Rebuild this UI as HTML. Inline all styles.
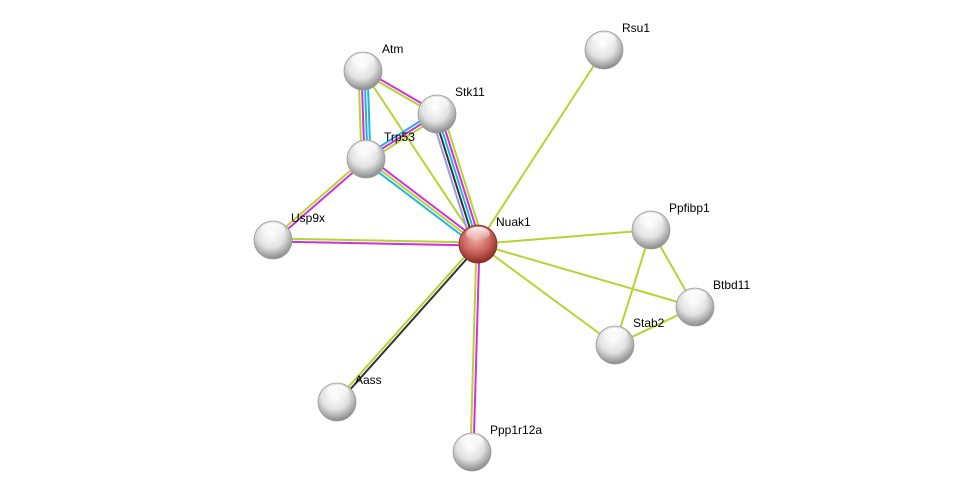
<!DOCTYPE html>
<html><head><meta charset="utf-8"><style>
html,body{margin:0;padding:0;background:#fff;width:975px;height:497px;overflow:hidden}
text{font-family:"Liberation Sans",sans-serif;font-size:12px;fill:#000}
</style></head><body>
<svg id="s" width="975" height="497" xmlns="http://www.w3.org/2000/svg">
<defs>
<radialGradient id="g" cx="45%" cy="35%" r="65%">
<stop offset="0" stop-color="#ffffff"/><stop offset="0.55" stop-color="#e2e2e2"/><stop offset="1" stop-color="#8a8a8a"/>
</radialGradient>
<radialGradient id="r" cx="45%" cy="35%" r="65%">
<stop offset="0" stop-color="#f0b0a8"/><stop offset="0.6" stop-color="#c8605a"/><stop offset="1" stop-color="#8a2a25"/>
</radialGradient>
<linearGradient id="hl" x1="0" y1="0" x2="0" y2="1">
<stop offset="0" stop-color="#fff" stop-opacity="0.95"/><stop offset="1" stop-color="#fff" stop-opacity="0"/>
</linearGradient>
</defs>
<g id="edges"></g><g id="nodes"></g>
</svg>
<script>
var N={Atm:[363,71],Stk11:[437,114],Trp53:[366,159],Usp9x:[273,240],Nuak1:[478,244],Rsu1:[604,50],Ppfibp1:[651,230],Btbd11:[695,307],Stab2:[615,345],Aass:[337,402],Ppp1r12a:[472,452]};
var Y="#b4d432",M="#d030d8",C="#22b4e0",K="#333333",L="#9999ee";
var E=[["Atm","Trp53",[C,C,M,Y]],["Atm","Stk11",[M,Y]],["Atm","Nuak1",[Y]],["Stk11","Trp53",[Y,M,C]],
["Stk11","Nuak1",[Y,M,C,K,L]],["Trp53","Nuak1",[M,Y,C]],["Trp53","Usp9x",[M,Y]],["Usp9x","Nuak1",[Y,M]],
["Rsu1","Nuak1",[Y]],["Nuak1","Ppfibp1",[Y]],["Nuak1","Btbd11",[Y]],["Nuak1","Stab2",[Y]],
["Ppfibp1","Btbd11",[Y]],["Ppfibp1","Stab2",[Y]],["Stab2","Btbd11",[Y]],["Aass","Nuak1",[Y,K]],["Ppp1r12a","Nuak1",[Y,M]]];
var ns="http://www.w3.org/2000/svg",eg=document.getElementById("edges"),ng=document.getElementById("nodes");
E.forEach(function(e){var a=N[e[0]],b=N[e[1]],dx=b[0]-a[0],dy=b[1]-a[1],l=Math.hypot(dx,dy),px=-dy/l,py=dx/l,n=e[2].length;
e[2].forEach(function(c,i){var o=(i-(n-1)/2)*3;var ln=document.createElementNS(ns,"line");
ln.setAttribute("x1",a[0]+px*o);ln.setAttribute("y1",a[1]+py*o);ln.setAttribute("x2",b[0]+px*o);ln.setAttribute("y2",b[1]+py*o);
ln.setAttribute("stroke",c);ln.setAttribute("stroke-width","2");eg.appendChild(ln);});});
var lab={Atm:[382,53],Stk11:[455,96],Trp53:[384,141],Usp9x:[291,222],Nuak1:[496,226],Rsu1:[622,32],Ppfibp1:[669,212],Btbd11:[713,289],Stab2:[633,327],Aass:[355,384],Ppp1r12a:[490,434]};
for(var k in N){var p=N[k];var c=document.createElementNS(ns,"circle");c.setAttribute("cx",p[0]);c.setAttribute("cy",p[1]);c.setAttribute("r",19);
c.setAttribute("fill",k=="Nuak1"?"url(#r)":"url(#g)");c.setAttribute("stroke",k=="Nuak1"?"#7a2a25":"#999");c.setAttribute("stroke-width","0.8");ng.appendChild(c);
var h=document.createElementNS(ns,"ellipse");h.setAttribute("cx",p[0]);h.setAttribute("cy",p[1]-10);h.setAttribute("rx",12);h.setAttribute("ry",7);h.setAttribute("fill","url(#hl)");ng.appendChild(h);
var t=document.createElementNS(ns,"text");t.setAttribute("x",lab[k][0]);t.setAttribute("y",lab[k][1]);t.textContent=k;ng.appendChild(t);}
</script>
</body></html>
